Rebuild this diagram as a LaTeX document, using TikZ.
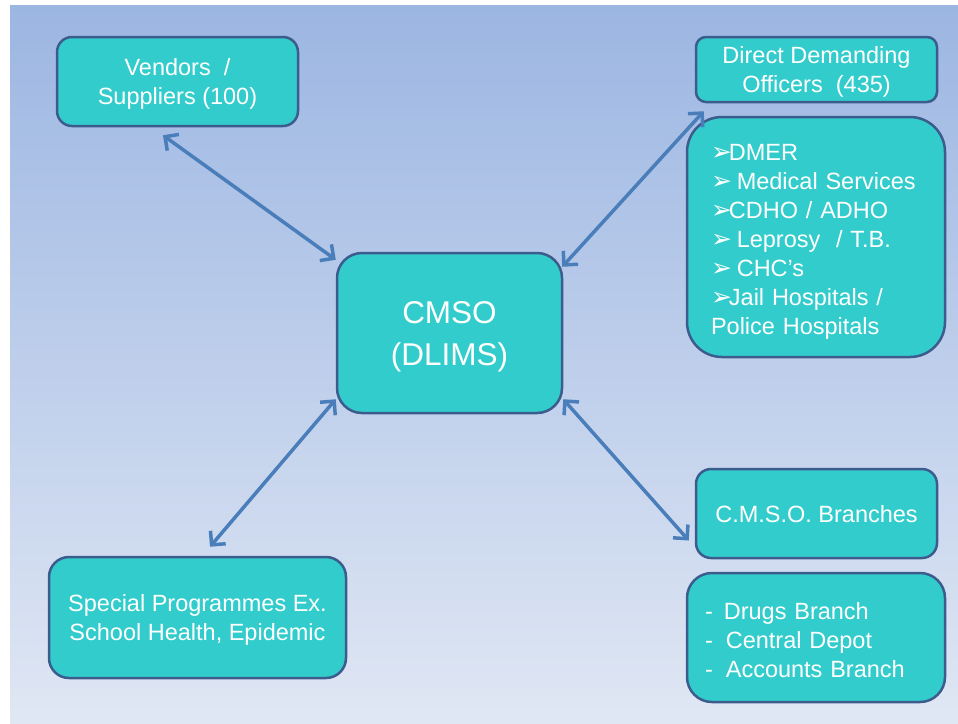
\documentclass[tikz,border=0pt]{standalone}
\usepackage{fontspec}
\setmainfont{Liberation Sans}
\newfontfamily\dejavu{DejaVu Sans}
\usetikzlibrary{arrows.meta}
\definecolor{boxfill}{RGB}{51,204,204}
\definecolor{boxline}{RGB}{59,92,140}
\definecolor{linkblue}{RGB}{74,126,187}
\definecolor{bgtop}{RGB}{156,182,226}
\definecolor{bgbottom}{RGB}{224,231,244}
\newcommand{\tick}{{\dejavu\fontsize{25}{29}\selectfont ➢}\kern-3pt}
\begin{document}
\begin{tikzpicture}[x=1pt,y=-1pt,
  box/.style={draw=boxline,line width=2.5pt,fill=boxfill,text=white,align=center,
    text depth=-1pt,font=\fontsize{23.5}{29}\selectfont},
  link/.style={linkblue,line width=3.5pt,
    {Straight Barb[length=10pt,width=20pt]}-{Straight Barb[length=10pt,width=20pt]}}]
\useasboundingbox (0,0) rectangle (958,723);
\shade[top color=bgtop,bottom color=bgbottom] (10,5) rectangle (958,723);
\node[box,rounded corners=25pt,minimum width=225pt,minimum height=160pt,text depth=-5pt,
  font=\fontsize{31.5}{42}\selectfont] (cmso) at (449.5,333) {CMSO\\(DLIMS)};
\node[box,rounded corners=15pt,minimum width=241pt,minimum height=89pt] (vend) at (177.5,81.5) {Vendors~~/\\Suppliers (100)};
\node[box,rounded corners=10pt,minimum width=241pt,minimum height=65pt] (ddo) at (816.5,69.5) {Direct Demanding\\Officers~~(435)};
\node[box,rounded corners=35pt,minimum height=240pt,text width=210pt,inner xsep=24pt,align=left,text depth=169pt] (ddolist) at (816,237)
  {\tick DMER\\\tick\ Medical Services\\\tick CDHO / ADHO\\\tick\ Leprosy~~/ T.B.\\\tick\ CHC’s\\\tick Jail Hospitals /\\Police Hospitals};
\node[box,rounded corners=15pt,minimum width=241pt,minimum height=89pt,text depth=-4pt] (branch) at (816.5,513.5) {C.M.S.O. Branches};
\node[box,rounded corners=25pt,minimum height=129pt,text width=222pt,inner xsep=18pt,align=left,text depth=54pt] (branchlist) at (816,637.5)
  {-\hspace{11pt}Drugs Branch\\-\hspace{13pt}Central Depot\\-\hspace{13pt}Accounts Branch};
\node[box,rounded corners=20pt,minimum width=297pt,minimum height=121pt] (special) at (197.5,617.5) {Special Programmes Ex.\\School Health, Epidemic};
\draw[link] ([shift={(-14.5,8)}]vend.south) -- ([shift={(0,8)}]cmso.north west);
\draw[link] ([shift={(9,8)}]ddo.south west) -- ([shift={(-1,15)}]cmso.north east);
\draw[link] ([shift={(12.5,-9)}]special.north) -- ([shift={(0,-15)}]cmso.south west);
\draw[link] ([shift={(-6,27)}]branch.west) -- ([shift={(0,-15)}]cmso.south east);
\end{tikzpicture}
\end{document}
